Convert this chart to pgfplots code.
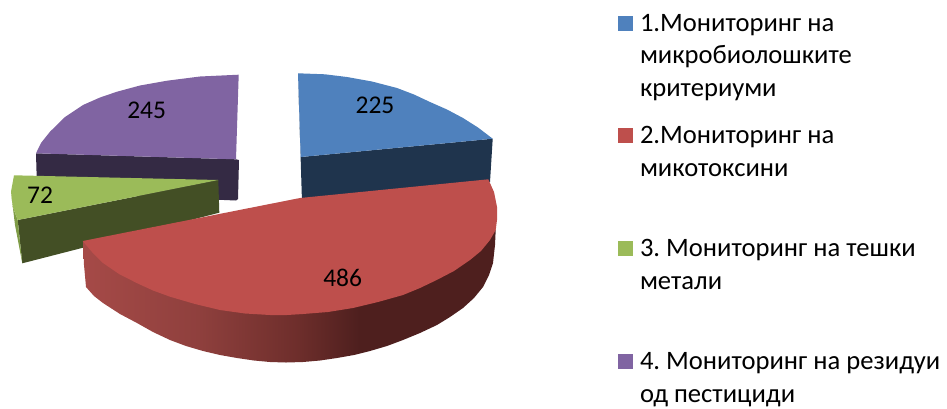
\documentclass[border=0pt]{standalone}
\usepackage{pgfplots}
\pgfplotsset{compat=1.18}
\usepackage{fontspec}
\setmainfont{Carlito}
\frenchspacing
\definecolor{cBlue}{HTML}{4F81BD}
\definecolor{cBlueD}{HTML}{1F344D}
\definecolor{cRed}{HTML}{BE4F4C}
\definecolor{cGreen}{HTML}{9BBB59}
\definecolor{cGreenD}{HTML}{434F25}
\definecolor{cGreenM}{HTML}{7F9C47}
\definecolor{cPurple}{HTML}{8064A2}
\definecolor{cPurpleD}{HTML}{342A44}
\pgfdeclarehorizontalshading{redside}{100bp}{
 rgb(0bp)=(0.65,0.29,0.28);
 rgb(25bp)=(0.65,0.29,0.28);
 rgb(39bp)=(0.56,0.25,0.24);
 rgb(51bp)=(0.43,0.18,0.17);
 rgb(58.5bp)=(0.306,0.122,0.118);
 rgb(100bp)=(0.306,0.122,0.118)}
\tikzset{
  lbl/.style={font=\fontsize{25.5}{25.5}\selectfont, text=black},
  leg/.style={font=\fontsize{26.6}{26.6}\selectfont, text=black, anchor=base west, inner sep=0pt, outer sep=0pt},
}
\begin{document}
\begin{tikzpicture}
\useasboundingbox (0,0) rectangle (947pt,408pt);
\begin{axis}[
  scale only axis, width=947pt, height=408pt,
  xmin=0, xmax=947, ymin=0, ymax=408, y dir=reverse,
  hide axis, clip=false,
  every axis plot/.append style={no markers, draw=none, line width=0pt},
]
% purple slice: value 245
\addplot[fill=cPurpleD] coordinates {(36,153.3)(236,159.3)(239,160)(238,199)(236,200.5)(130,196)(36.7,178)};
\addplot[fill=cPurple] coordinates {(238.7,74.7)(236,159.3)(36,153.3)(41,143)(50,131.7)(65,117)(83,105)(100,97.5)(117,91.7)(140,85.5)(167,80.7)(200,76.5)(238.7,74.7)};
% blue slice: value 225
\addplot[fill=cBlueD] coordinates {(298,73.3)(300.7,157)(492.7,138.7)(490,182)(302,202)};
\addplot[fill=cBlue] coordinates {(298,73.3)(325,74.3)(347,77)(372,81.5)(397,88)(414,94.5)(430,102)(447,109.5)(463,118)(478,127.5)(492.7,138.7)(300.7,157)};
% green slice: value 72
\addplot[fill=cGreenD] coordinates {(17.7,220)(218.3,180)(219.3,212.7)(22.3,263.3)};
\addplot[fill=cGreenM] coordinates {(11,191.7)(12.7,206.7)(17.7,220)(22.3,263.3)(15,225)};
\addplot[fill=cGreen] coordinates {(14,175.3)(218.3,180)(17.7,220)(12.7,206.7)(11,191.7)};
% red slice: value 486
\addplot[shading=redside] coordinates {(495.7,230)(495,245)(493,263)(489,275)(483,287)(474,298)(463,308)(450,317)(437,325)(420,333)(403,340)(387,346)(370,351)(354,355)(337,358)(320,360.5)(303,362)(286,362.5)(270,362)(254,360.5)(237,358)(220,355)(203,351)(186,346)(170,340)(153,332)(137,323)(120,314)(103,303)(94,296)(86,287)(84,265)(83,241)(300,260)};
\addplot[fill=cRed] coordinates {(82.7,241)(300,198)(488.3,179.3)(494,192)(497,207)(497,220)(495.7,230)(490,240)(481,251)(470,260)(454,271)(436.7,280)(420,288)(403,295)(378,302)(353,308)(328,312)(303,314)(287,315)(270,315)(245,313.5)(220,310)(195,304)(170,296.7)(153,290.5)(136.7,283)(119,274)(103,263)(92,252)};
% data labels
\node[lbl] at (axis cs:375,105.7) {225};
\node[lbl] at (axis cs:342.7,278) {486};
\node[lbl] at (axis cs:40,195.7) {72};
\node[lbl] at (axis cs:146.7,110) {245};
% legend keys
\addplot[fill=cBlue] coordinates {(618,16)(633.3,16)(633.3,31)(618,31)};
\addplot[fill=cRed] coordinates {(618,128)(633.3,128)(633.3,143)(618,143)};
\addplot[fill=cGreen] coordinates {(618,241)(633.3,241)(633.3,256)(618,256)};
\addplot[fill=cPurple] coordinates {(618,354)(633.3,354)(633.3,369)(618,369)};
% legend text
\node[leg] at (axis cs:640,31) {1.Мониторинг на};
\node[leg] at (axis cs:640,63.5) {микробиолошките};
\node[leg] at (axis cs:640,96) {критериуми};
\node[leg] at (axis cs:640,143) {2.Мониторинг на};
\node[leg] at (axis cs:640,176) {микотоксини};
\node[leg] at (axis cs:640,256) {3. Мониторинг на тешки};
\node[leg] at (axis cs:640,289) {метали};
\node[leg] at (axis cs:640,369) {4. Мониторинг на резидуи};
\node[leg] at (axis cs:640,402) {од пестициди};
\end{axis}
\end{tikzpicture}
\end{document}
